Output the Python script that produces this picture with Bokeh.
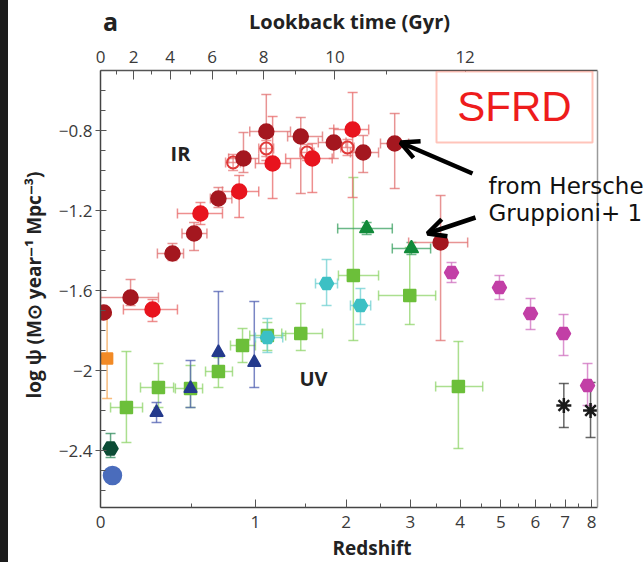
import numpy as np
from bokeh.plotting import figure
from bokeh.models import (Range1d, LinearAxis, FixedTicker, CustomJSTickFormatter, ColumnDataSource,
                          Whisker, TeeHead, Label, BoxAnnotation, Arrow, OpenHead, Spacer, Span, Title)
from bokeh.layouts import row, column
from bokeh.embed import file_html
from bokeh.resources import INLINE

# ---------------- data (redshift, log psi, error ranges) ----------------
# IR, dark red filled circles
ir_dark_z = [0.015, 0.144, 0.38, 0.52, 0.695, 0.896, 1.10, 1.45, 1.84, 2.24, 2.73, 3.58]
ir_dark_psi = [-1.71, -1.635, -1.415, -1.315, -1.14, -0.94, -0.805, -0.83, -0.86, -0.91, -0.865, -1.36]
ir_dark_zlo = [0.0, 0.0, 0.29, 0.44, 0.635, 0.774, 0.95, 1.31, 1.65, 2.06, 2.50, 2.97]
ir_dark_zhi = [0.03, 0.296, 0.45, 0.61, 0.80, 1.03, 1.34, 1.70, 2.00, 2.47, 2.97, 4.17]
ir_dark_plo = [-1.73, -1.675, -1.45, -1.40, -1.185, -1.01, -0.95, -1.115, -0.94, -1.01, -1.09, -1.85]
ir_dark_phi = [-1.69, -1.545, -1.365, -1.26, -1.085, -0.81, -0.62, -0.735, -0.79, -0.825, -0.715, -1.125]

# IR, bright red filled circles
ir_red_z = [0.262, 0.564, 0.86, 1.16, 1.58, 2.09]
ir_red_psi = [-1.695, -1.215, -1.105, -0.965, -0.94, -0.795]
ir_red_zlo = [0.108, 0.411, 0.726, 1.00, 1.29, 1.84]
ir_red_zhi = [0.411, 0.726, 1.03, 1.34, 1.82, 2.32]
ir_red_plo = [-1.755, -1.27, -1.235, -1.14, -1.11, -1.135]
ir_red_phi = [-1.645, -1.16, -1.025, -0.73, -0.865, -0.61]

# IR, open circles
ir_open_z = [0.81, 1.10, 1.52, 2.02]
ir_open_psi = [-0.96, -0.89, -0.91, -0.885]
ir_open_zlo = [0.75, 1.03, 1.44, 1.93]
ir_open_zhi = [0.87, 1.17, 1.60, 2.11]
ir_open_plo = [-1.0, -0.93, -0.95, -0.925]
ir_open_phi = [-0.92, -0.85, -0.87, -0.845]

# orange square (local)
or_z = [0.03]
or_psi = [-1.94]
or_plo = [-2.14]
or_phi = [-1.72]

# UV, green squares
uv_sq_z = [0.123, 0.296, 0.496, 0.695, 0.888, 1.11, 1.45, 2.10, 2.99, 3.96]
uv_sq_psi = [-2.185, -2.085, -2.09, -2.005, -1.875, -1.825, -1.815, -1.525, -1.625, -2.08]
uv_sq_zlo = [0.046, 0.196, 0.398, 0.60, 0.789, 0.95, 1.25, 1.90, 2.47, 3.48]
uv_sq_zhi = [0.207, 0.387, 0.579, 0.805, 1.00, 1.29, 1.70, 2.47, 3.48, 4.53]
uv_sq_plo = [-2.36, -2.185, -2.185, -2.085, -1.96, -1.90, -1.90, -1.85, -1.77, -2.39]
uv_sq_phi = [-1.905, -1.965, -1.975, -1.935, -1.79, -1.76, -1.665, -1.035, -1.385, -1.855]

# UV, dark green triangles
uv_tri_z = [2.29, 3.02]
uv_tri_psi = [-1.29, -1.39]
uv_tri_zlo = [1.89, 2.69]
uv_tri_zhi = [2.69, 3.38]
uv_tri_plo = [-1.32, -1.42]
uv_tri_phi = [-1.26, -1.36]

# UV, dark green local point
uv_dg_z = [0.046]
uv_dg_psi = [-2.39]
uv_dg_plo = [-2.435]
uv_dg_phi = [-2.315]

# UV, blue triangles
uv_bt_z = [0.285, 0.496, 0.695, 0.99]
uv_bt_psi = [-2.21, -2.09, -1.91, -1.96]
uv_bt_plo = [-2.26, -2.185, -2.0, -2.085]
uv_bt_phi = [-2.16, -1.95, -1.605, -1.655]

# UV, blue circle
uv_bc_z = [0.055]
uv_bc_psi = [-2.525]

# UV, cyan pentagons
uv_cy_z = [1.11, 1.75, 2.20]
uv_cy_psi = [-1.835, -1.565, -1.675]
uv_cy_zlo = [1.0, 1.617, 2.06]
uv_cy_zhi = [1.26, 1.888, 2.35]
uv_cy_plo = [-1.91, -1.675, -1.77]
uv_cy_phi = [-1.74, -1.445, -1.59]

# UV, magenta pentagons
uv_mg_z = [3.81, 4.96, 5.85, 6.94, 7.84]
uv_mg_psi = [-1.51, -1.585, -1.715, -1.815, -2.075]
uv_mg_plo = [-1.56, -1.645, -1.795, -1.925, -2.175]
uv_mg_phi = [-1.46, -1.525, -1.64, -1.72, -1.965]

# UV, black stars
uv_st_z = [6.95, 7.96]
uv_st_psi = [-2.175, -2.20]
uv_st_plo = [-2.285, -2.335]
uv_st_phi = [-2.065, -2.06]

# axis ticks
z_major = [0, 1, 2, 3, 4, 5, 6, 7, 8]
z_minor = [0.5, 1.5, 2.5, 3.5, 4.5, 5.5, 6.5, 7.5]
lb_major = [0, 2, 4, 6, 8, 10, 12]
lb_minor = [1, 3, 5, 7, 9, 11]
y_major = [-2.4, -2.0, -1.6, -1.2, -0.8]
y_minor = [-2.6, -2.5, -2.3, -2.2, -2.1, -1.9, -1.8, -1.7, -1.5, -1.4, -1.3, -1.1, -1.0, -0.9, -0.7, -0.6]

# ---------------- helpers ----------------
def lz(z):
    return list(np.log10(1.0 + np.asarray(z, dtype=float)))

# flat LCDM H0=70, Om=0.3, OL=0.7: redshift at a given lookback time
tH = 977.8 / 70.0
A = 2.0 * tH / (3.0 * np.sqrt(0.7))
B = np.sqrt(0.7 / 0.3)
t0 = A * np.arcsinh(B)

def z_of_lookback(tl):
    tl = np.asarray(tl, dtype=float)
    age = t0 - tl
    return (np.sinh(age / A) / B) ** (-2.0 / 3.0) - 1.0

FONT = "Open Sans"
TICKC = "#3a3a3a"
TITLEC = "#222222"
U_MAX = 0.9658                 # right edge of the drawn box (z ~ 8.25)
U_END = U_MAX * 543.0 / 497.0  # frame extended to page edge for the notes

# ---------------- header strip (panel letter + top axis title) ----------------
head = figure(width=635, height=38, x_range=Range1d(0, 635), y_range=Range1d(0, 38),
              output_backend="svg", toolbar_location=None, x_axis_location=None, y_axis_location=None,
              min_border_left=0, min_border_right=0, min_border_top=0, min_border_bottom=0)
head.grid.visible = False
head.outline_line_color = None
head.add_layout(Label(x=10, y=18, x_units="screen", y_units="screen", text="a", text_align="center",
                      text_baseline="middle", text_font=FONT, text_font_style="bold", text_font_size="25px",
                      text_color=TITLEC))
head.add_layout(Label(x=249, y=17, x_units="screen", y_units="screen", text="Lookback time (Gyr)",
                      text_align="center", text_baseline="middle", text_font=FONT, text_font_style="bold",
                      text_font_size="20px", text_color=TITLEC))

# ---------------- main plot ----------------
p = figure(frame_width=543, frame_height=437,
           x_range=Range1d(0, U_END), y_range=Range1d(-2.685, -0.5),
           output_backend="svg", toolbar_location=None,
           min_border_left=92, min_border_right=0, min_border_top=32, min_border_bottom=55,
           background_fill_color="white", border_fill_color="white")
p.grid.visible = False
p.outline_line_color = None

# bottom axis (redshift)
xa = p.xaxis[0]
xa.bounds = (0, U_MAX)
xa.ticker = FixedTicker(ticks=lz(z_major), minor_ticks=lz(z_minor))
xa.formatter = CustomJSTickFormatter(code="return Math.round(Math.pow(10, tick) - 1).toString();")
xa.axis_label = "Redshift"
xa.axis_label_text_font = FONT
xa.axis_label_text_font_style = "bold"
xa.axis_label_text_font_size = "19px"
xa.axis_label_text_color = TITLEC
xa.axis_label_standoff = 4
xa.major_label_text_font = FONT
xa.major_label_text_font_size = "17px"
xa.major_label_text_color = TICKC
xa.major_label_standoff = 8
xa.major_tick_in = 8
xa.major_tick_out = 0
xa.minor_tick_in = 4
xa.minor_tick_out = 0
xa.axis_line_color = "#444444"
xa.axis_line_width = 1.5
xa.major_tick_line_color = "#555555"
xa.minor_tick_line_color = "#555555"

# top axis (lookback time)
lb_major_u = lz(z_of_lookback(lb_major))
lb_minor_u = lz(z_of_lookback(lb_minor))
top = LinearAxis(ticker=FixedTicker(ticks=lb_major_u, minor_ticks=lb_minor_u), bounds=(0, U_MAX))
top.formatter = CustomJSTickFormatter(args=dict(tk=lb_major_u, lab=[str(v) for v in lb_major]), code="""
for (let i = 0; i < tk.length; i++) { if (Math.abs(tick - tk[i]) < 1e-6) return lab[i]; }
return "";
""")
top.major_label_text_font = FONT
top.major_label_text_font_size = "17px"
top.major_label_text_color = TICKC
top.major_label_standoff = 8
top.major_tick_in = 9
top.major_tick_out = 0
top.minor_tick_in = 4
top.minor_tick_out = 0
top.axis_line_color = "#555555"
top.axis_line_width = 1.5
top.major_tick_line_color = "#555555"
top.minor_tick_line_color = "#555555"
p.add_layout(top, "above")

# left axis
ya = p.yaxis[0]
ya.ticker = FixedTicker(ticks=y_major, minor_ticks=y_minor)
ya.formatter = CustomJSTickFormatter(code="""
const r = Math.round(tick * 10) / 10;
let s = (Math.abs(r - Math.round(r)) < 1e-9) ? Math.round(r).toString() : r.toFixed(1);
return s.replace('-', '\u2212');
""")
ya.major_label_text_font = FONT
ya.major_label_text_font_size = "17px"
ya.major_label_text_color = TICKC
ya.major_label_standoff = 3
ya.major_tick_in = 6
ya.major_tick_out = 5
ya.minor_tick_in = 5
ya.minor_tick_out = 0
ya.axis_line_color = "#444444"
ya.axis_line_width = 1.5
ya.major_tick_line_color = "#555555"
ya.minor_tick_line_color = "#555555"

p.add_layout(Title(text="log \u03c8 (M\u2299 year\u207b\u00b9 Mpc\u207b\u00b3)", align="center", offset=-4,
                   standoff=17, text_font=FONT, text_font_style="bold", text_font_size="19px",
                   text_color=TITLEC), "left")

# right edge of the box
p.add_layout(Span(location=U_MAX, dimension="height", line_color="#9a9a9a", line_width=1.5))

# ---------------- series ----------------
def add_series(z, psi, marker, color, errc, size, zlo=None, zhi=None, plo=None, phi=None,
               fill=True, line_color=None, cap=10, ealpha=0.75, lw=1.5):
    d = dict(u=lz(z), psi=list(psi))
    if plo is not None:
        d["plo"] = list(plo)
        d["phi"] = list(phi)
    if zlo is not None:
        d["ulo"] = lz(zlo)
        d["uhi"] = lz(zhi)
    src = ColumnDataSource(d)
    def head_():
        return TeeHead(size=cap, line_color=errc, line_width=1.5, line_alpha=ealpha)
    if plo is not None:
        p.add_layout(Whisker(source=src, base="u", lower="plo", upper="phi", dimension="height",
                             line_color=errc, line_width=1.5, line_alpha=ealpha,
                             lower_head=head_(), upper_head=head_()))
    if zlo is not None:
        p.add_layout(Whisker(source=src, base="psi", lower="ulo", upper="uhi", dimension="width",
                             line_color=errc, line_width=1.5, line_alpha=ealpha,
                             lower_head=head_(), upper_head=head_()))
    p.scatter("u", "psi", source=src, marker=marker, size=size,
              fill_color=(color if fill else None),
              line_color=(line_color or color), line_width=lw)

# UV first (underneath)
add_series(uv_sq_z, uv_sq_psi, "square", "#6cbf3a", "#8fd46a", 12, uv_sq_zlo, uv_sq_zhi, uv_sq_plo, uv_sq_phi)
add_series(uv_bt_z, uv_bt_psi, "triangle", "#243a8c", "#4d5db0", 13, plo=uv_bt_plo, phi=uv_bt_phi)
add_series(uv_tri_z, uv_tri_psi, "triangle", "#128a3a", "#3aa060", 14, uv_tri_zlo, uv_tri_zhi, uv_tri_plo, uv_tri_phi)
add_series(uv_cy_z, uv_cy_psi, "hex", "#3cc0c4", "#6fd0d2", 14, uv_cy_zlo, uv_cy_zhi, uv_cy_plo, uv_cy_phi)
add_series(uv_mg_z, uv_mg_psi, "hex", "#c23fa6", "#cf6fbf", 14, plo=uv_mg_plo, phi=uv_mg_phi)
add_series(uv_st_z, uv_st_psi, "asterisk", "#1a1a1a", "#333333", 15, plo=uv_st_plo, phi=uv_st_phi, lw=2.5)
add_series(uv_dg_z, uv_dg_psi, "hex", "#0c4c36", "#2f8a5a", 15, plo=uv_dg_plo, phi=uv_dg_phi)
add_series(uv_bc_z, uv_bc_psi, "circle", "#4a6cbc", "#4a6cbc", 18)
add_series(or_z, or_psi, "square", "#f28a26", "#f5a552", 11, plo=or_plo, phi=or_phi)

# IR
add_series(ir_open_z, ir_open_psi, "circle", "#e03a3a", "#e87878", 12, ir_open_zlo, ir_open_zhi,
           ir_open_plo, ir_open_phi, fill=False, lw=2)
add_series(ir_red_z, ir_red_psi, "circle", "#e8141e", "#e86a6a", 15, ir_red_zlo, ir_red_zhi, ir_red_plo, ir_red_phi)
add_series(ir_dark_z, ir_dark_psi, "circle", "#a4171f", "#e07070", 15, ir_dark_zlo, ir_dark_zhi, ir_dark_plo, ir_dark_phi)

# ---------------- annotations ----------------
p.add_layout(Label(x=80, y=354, x_units="screen", y_units="screen", text="IR", text_align="center",
                   text_baseline="middle", text_font=FONT, text_font_style="bold", text_font_size="20px",
                   text_color=TITLEC))
p.add_layout(Label(x=213, y=129, x_units="screen", y_units="screen", text="UV", text_align="center",
                   text_baseline="middle", text_font=FONT, text_font_style="bold", text_font_size="20px",
                   text_color=TITLEC))

# SFRD box
p.add_layout(BoxAnnotation(left=336, right=492, top=436, bottom=365,
                           left_units="screen", right_units="screen", top_units="screen", bottom_units="screen",
                           fill_color="white", fill_alpha=1.0, line_color="#ff3a1a", line_width=2, level="overlay"))
p.add_layout(Label(x=414, y=401, x_units="screen", y_units="screen", text="SFRD", text_align="center",
                   text_baseline="middle", text_font="Liberation Sans", text_font_size="42px",
                   text_color="#ee1c1c", level="overlay"))

# handwritten notes (run off the right edge, as in the slide)
p.add_layout(Label(x=388, y=322, x_units="screen", y_units="screen", text="from Herschel",
                   text_align="left", text_baseline="middle", text_font="DejaVu Sans",
                   text_font_size="23px", text_color="#111111"))
p.add_layout(Label(x=388, y=295, x_units="screen", y_units="screen", text="Gruppioni+ 13",
                   text_align="left", text_baseline="middle", text_font="DejaVu Sans",
                   text_font_size="23px", text_color="#111111"))

p.add_layout(Arrow(x_start=372, y_start=334, x_end=300, y_end=365, start_units="screen", end_units="screen",
                   line_color="black", line_width=4.5,
                   end=OpenHead(size=18, line_color="black", line_width=4.5)))
p.add_layout(Arrow(x_start=375, y_start=290, x_end=327, y_end=274, start_units="screen", end_units="screen",
                   line_color="black", line_width=4.5,
                   end=OpenHead(size=18, line_color="black", line_width=4.5)))

strip = Spacer(width=8, height=562, styles={"background-color": "#1c1c1c"})
layout = row(strip, column(head, p))

open("out.html", "w").write(file_html(layout, INLINE))
